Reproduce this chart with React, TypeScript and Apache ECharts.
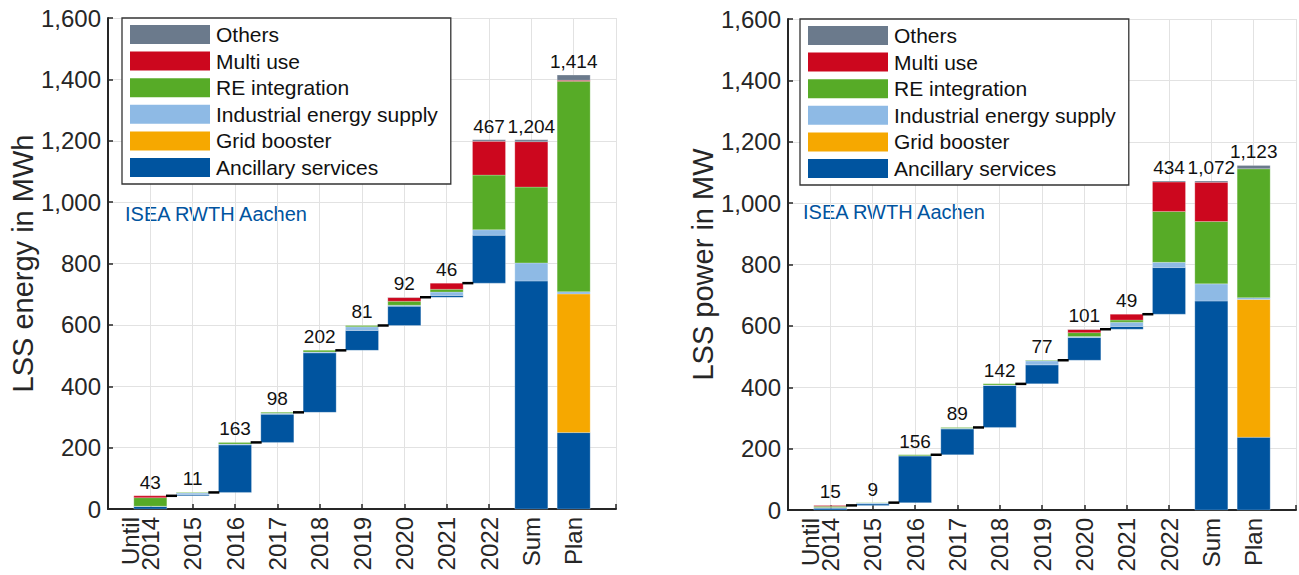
import React, { useEffect, useRef } from "react";
import * as echarts from "echarts";

const categories = ["Until\n2014\n\u00a0", "2015", "2016", "2017", "2018", "2019", "2020", "2021", "2022", "Sum", "Plan"];
const seriesNames = ["Ancillary services", "Grid booster", "Industrial energy supply", "RE integration", "Multi use", "Others"];
const seriesColors = ["#00549F", "#F6A800", "#8EBAE5", "#57AB27", "#CC071E", "#6B7A8C"];
const legendOrder = ["Others", "Multi use", "RE integration", "Industrial energy supply", "Grid booster", "Ancillary services"];
const yTicks = [0, 200, 400, 600, 800, 1000, 1200, 1400, 1600];

// Energy (MWh), years Until 2014 .. 2022
const energyAncillary = [8, 4, 155, 92, 194, 65, 63, 6, 156];
const energyGridBooster = [0, 0, 0, 0, 0, 0, 0, 0, 0];
const energyIndustrial = [1, 5, 3, 3, 3, 12, 3, 11, 18];
const energyRE = [28, 2, 5, 3, 5, 4, 13, 9, 178];
const energyMulti = [6, 0, 0, 0, 0, 0, 12, 20, 110];
const energyOthers = [0, 0, 0, 0, 0, 0, 1, 0, 5];
const energyPlan = [249, 452, 7, 686, 3, 17];
const energyLabels = [43, 11, 163, 98, 202, 81, 92, 46, 467, 1204, 1414];

// Power (MW), years Until 2014 .. 2022
const powerAncillary = [6, 5, 152, 84, 137, 62, 74, 9, 152];
const powerGridBooster = [0, 0, 0, 0, 0, 0, 0, 0, 0];
const powerIndustrial = [2, 3, 1, 2, 1, 13, 3, 14, 17];
const powerRE = [4, 1, 3, 3, 4, 2, 13, 7, 166];
const powerMulti = [3, 0, 0, 0, 0, 0, 10, 19, 96];
const powerOthers = [0, 0, 0, 0, 0, 0, 1, 0, 3];
const powerPlan = [237, 449, 6, 420, 0, 11];
const powerLabels = [15, 9, 156, 89, 142, 77, 101, 49, 434, 1072, 1123];

const FONT = '"Liberation Sans", Arial, Helvetica, sans-serif';
const HALF = 0.39;

function build(segs: number[][], plan: number[]) {
  const nYears = segs[0].length;
  const out: number[][][] = segs.map(() => []);
  const tops: number[] = [];
  const connectors: number[][] = [];
  let cum = 0;
  for (let i = 0; i < nYears; i++) {
    let base = cum;
    for (let k = 0; k < segs.length; k++) {
      const v = segs[k][i];
      if (v > 0) out[k].push([i + 1, base, base + v]);
      base += v;
    }
    cum = base;
    tops.push(cum);
    if (i < nYears - 1) connectors.push([i + 1, cum]);
  }
  // Sum bar
  let base = 0;
  for (let k = 0; k < segs.length; k++) {
    const v = segs[k].reduce((a, b) => a + b, 0);
    if (v > 0) out[k].push([nYears + 1, base, base + v]);
    base += v;
  }
  tops.push(base);
  // Plan bar
  base = 0;
  for (let k = 0; k < plan.length; k++) {
    const v = plan[k];
    if (v > 0) out[k].push([nYears + 2, base, base + v]);
    base += v;
  }
  tops.push(base);
  return { out, tops, connectors };
}

const fmt = (v: number) => v.toLocaleString("en-US");

export default function App() {
  const ref = useRef<HTMLDivElement>(null);
  useEffect(() => {
    if (!ref.current) return;
    const chart = echarts.init(ref.current, undefined, { renderer: "svg" });
    const charts = [
      {
        b: build([energyAncillary, energyGridBooster, energyIndustrial, energyRE, energyMulti, energyOthers], energyPlan),
        labels: energyLabels,
        name: "LSS energy in MWh",
      },
      {
        b: build([powerAncillary, powerGridBooster, powerIndustrial, powerRE, powerMulti, powerOthers], powerPlan),
        labels: powerLabels,
        name: "LSS power in MW",
      },
    ];
    const grids = [
      { left: 108, top: 18, width: 508, height: 491 },
      { left: 788, top: 19, width: 508, height: 491 },
    ];
    const axisColor = "#262626";
    const gridColor = "#e2e2e2";
    const xAxes = grids.map((_, i) => ({
      type: "value",
      gridIndex: i,
      min: 0,
      max: 12,
      interval: 1,
      axisLine: { show: true, onZero: false, lineStyle: { color: axisColor, width: 2 } },
      axisTick: { show: true, inside: true, length: 5, lineStyle: { color: axisColor, width: 1.5 } },
      splitLine: { show: true, lineStyle: { color: gridColor, width: 1 } },
      axisLabel: {
        show: true,
        rotate: 90,
        margin: 8,
        fontSize: 24,
        lineHeight: 20,
        color: axisColor,
        fontFamily: FONT,
        showMinLabel: true,
        showMaxLabel: true,
        formatter: (v: number) => (v >= 1 && v <= 11 ? categories[v - 1] : ""),
      },
    }));
    const yAxes = grids.map((_, i) => ({
      type: "value",
      gridIndex: i,
      min: yTicks[0],
      max: yTicks[yTicks.length - 1],
      interval: yTicks[1] - yTicks[0],
      name: charts[i].name,
      nameLocation: "middle",
      nameGap: 71,
      nameTextStyle: { fontSize: 29, color: axisColor, fontFamily: FONT },
      axisLine: { show: true, lineStyle: { color: axisColor, width: 2 } },
      axisTick: { show: true, inside: true, length: 5, lineStyle: { color: axisColor, width: 1.5 } },
      splitLine: { show: true, lineStyle: { color: gridColor, width: 1 } },
      axisLabel: { fontSize: 24, margin: 7, color: axisColor, fontFamily: FONT, formatter: (v: number) => fmt(v) },
    }));

    const series: any[] = [];
    charts.forEach((c, ci) => {
      seriesNames.forEach((nm, k) => {
        const color = seriesColors[k];
        series.push({
          type: "custom",
          name: nm,
          xAxisIndex: ci,
          yAxisIndex: ci,
          itemStyle: { color },
          encode: { x: 0, y: [1, 2] },
          data: c.b.out[k],
          renderItem: (params: any, api: any) => {
            const x = api.value(0);
            const y0 = api.value(1);
            const y1 = api.value(2);
            const p0 = api.coord([x - HALF, y1]);
            const p1 = api.coord([x + HALF, y0]);
            return {
              type: "rect",
              shape: { x: p0[0], y: p0[1], width: p1[0] - p0[0], height: p1[1] - p0[1] },
              style: { fill: color, stroke: "rgba(255,255,255,0.3)", lineWidth: 0.8 },
            };
          },
        });
      });
      series.push({
        type: "custom",
        name: "connectors" + ci,
        xAxisIndex: ci,
        yAxisIndex: ci,
        encode: { x: 0, y: 1 },
        data: c.b.connectors,
        z: 3,
        renderItem: (params: any, api: any) => {
          const x = api.value(0);
          const lv = api.value(1);
          const a = api.coord([x + HALF - 0.02, lv]);
          const b = api.coord([x + 1 - HALF + 0.02, lv]);
          return {
            type: "line",
            shape: { x1: a[0], y1: a[1], x2: b[0], y2: b[1] },
            style: { stroke: "#000", lineWidth: 2.5 },
          };
        },
      });
      series.push({
        type: "custom",
        name: "labels" + ci,
        xAxisIndex: ci,
        yAxisIndex: ci,
        encode: { x: 0, y: 1 },
        data: c.b.tops.map((t, i) => [i + 1, t, c.labels[i]]),
        z: 4,
        renderItem: (params: any, api: any) => {
          const x = api.value(0);
          const t = api.value(1);
          const p = api.coord([x, t]);
          return {
            type: "text",
            x: p[0],
            y: p[1] - 4,
            style: {
              text: fmt(api.value(2)),
              textAlign: "center",
              textVerticalAlign: "bottom",
              align: "center",
              verticalAlign: "bottom",
              fontSize: 19,
              fontFamily: FONT,
              fill: "#111",
            },
          };
        },
      });
    });

    const legends = [122, 800].map((left, i) => ({
      show: true,
      orient: "vertical",
      left,
      top: grids[i].top,
      data: legendOrder,
      icon: "rect",
      itemWidth: 80,
      itemHeight: 19,
      itemGap: 5.6,
      selectedMode: false,
      backgroundColor: "#fff",
      borderColor: "#333",
      borderWidth: 1.3,
      borderRadius: 0,
      padding: [6, 13, 6, 8],
      textStyle: { fontSize: 21, color: "#111", fontFamily: FONT, lineHeight: 19, padding: [0, 0, 0, 1] },
    }));

    chart.setOption({
      animation: false,
      backgroundColor: "#fff",
      grid: grids,
      xAxis: xAxes,
      yAxis: yAxes,
      legend: legends,
      series,
      graphic: [
        {
          type: "text",
          left: 125,
          top: 204,
          style: { text: "ISEA RWTH Aachen", fill: "#00549F", font: `20px ${FONT}` },
        },
        {
          type: "text",
          left: 803,
          top: 202,
          style: { text: "ISEA RWTH Aachen", fill: "#00549F", font: `20px ${FONT}` },
        },
      ],
    });
    return () => chart.dispose();
  }, []);
  return <div ref={ref} style={{ position: "absolute", left: 0, top: 0, width: 1299, height: 575 }} />;
}
